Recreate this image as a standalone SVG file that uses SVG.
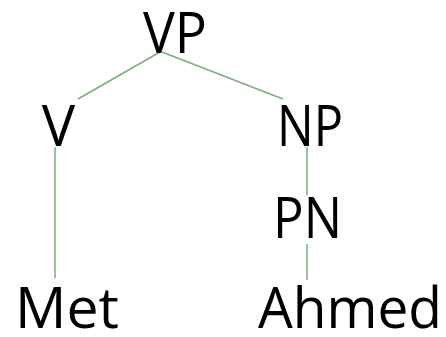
<svg xmlns="http://www.w3.org/2000/svg" width="446" height="337" viewBox="0 0 446 337">
<style>
.t{font-family:"Open Sans","Liberation Sans",sans-serif;font-size:56px;fill:#000;text-anchor:middle}
.e{stroke:#7aae7a;stroke-width:1.5;fill:none}
</style>
<rect width="446" height="337" fill="#fff"/>
<g id="edges">
<line class="e" x1="160" y1="52" x2="78" y2="99"/>
<line class="e" x1="162" y1="52" x2="283" y2="99"/>
<line class="e" x1="55" y1="147" x2="55" y2="278"/>
<line class="e" x1="307" y1="147" x2="307" y2="195"/>
<line class="e" x1="307" y1="244" x2="307" y2="280"/>
</g>
<g id="vp"><text class="t" x="175" y="53" textLength="64" lengthAdjust="spacingAndGlyphs">VP</text></g>
<g id="v"><text class="t" x="58.5" y="146">V</text></g>
<g id="np"><text class="t" x="310" y="146" textLength="66" lengthAdjust="spacingAndGlyphs">NP</text></g>
<g id="pn"><text class="t" x="307.5" y="238" textLength="69" lengthAdjust="spacingAndGlyphs">PN</text></g>
<g id="met"><text class="t" x="67" y="328" textLength="104" lengthAdjust="spacingAndGlyphs">Met</text></g>
<g id="ahmed"><text class="t" x="350" y="328" textLength="184" lengthAdjust="spacingAndGlyphs">Ahmed</text></g>
</svg>
